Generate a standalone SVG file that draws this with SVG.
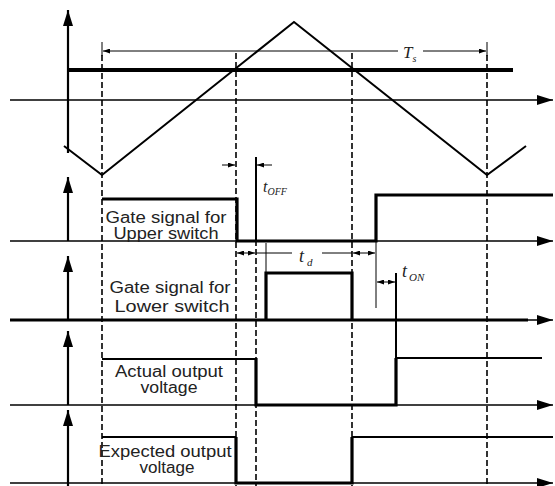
<svg xmlns="http://www.w3.org/2000/svg" width="555" height="486" viewBox="0 0 555 486">
<defs>
<marker id="arr" markerUnits="userSpaceOnUse" markerWidth="16" markerHeight="10" refX="16" refY="5" orient="auto"><path class="head" d="M0,0 L16,5 L0,10 z"/></marker>
<marker id="sa" markerUnits="userSpaceOnUse" markerWidth="7" markerHeight="5" refX="7" refY="2.5" orient="auto"><path class="head" d="M0,0 L7,2.5 L0,5 z"/></marker>
<marker id="sas" markerUnits="userSpaceOnUse" markerWidth="7" markerHeight="5" refX="0" refY="2.5" orient="auto"><path class="head" d="M7,0 L0,2.5 L7,5 z"/></marker>
</defs>
<style>
line,path{fill:none;stroke:#000}
path.head{fill:#000;stroke:none}
.ax{stroke-width:1.3}
.vax{stroke-width:2.2}
.dash{stroke-width:1.6;stroke-dasharray:6,3}
.thin{stroke-width:1}
.med{stroke-width:2}
.sig{stroke-width:3.2}
.lbl{font-family:"Liberation Sans",Arial,sans-serif;font-size:16px;fill:#222}
.it{font-family:"Liberation Serif","Times New Roman",serif;font-style:italic;fill:#222}
</style>
<g id="connectors">
<line class="vax" x1="68" y1="153" x2="68" y2="10" marker-end="url(#arr)"/>
<line class="ax" x1="10" y1="100" x2="553" y2="100" marker-end="url(#arr)"/>
<line class="vax" x1="68" y1="241" x2="68" y2="177" marker-end="url(#arr)"/>
<line class="ax" x1="10" y1="241" x2="553" y2="241" marker-end="url(#arr)"/>
<line class="vax" x1="68" y1="320" x2="68" y2="256" marker-end="url(#arr)"/>
<line class="ax" x1="10" y1="320" x2="553" y2="320" marker-end="url(#arr)"/>
<line class="sig" x1="10" y1="320" x2="528" y2="320"/>
<line class="vax" x1="68" y1="405" x2="68" y2="331" marker-end="url(#arr)"/>
<line class="ax" x1="10" y1="405" x2="553" y2="405" marker-end="url(#arr)"/>
<line class="vax" x1="68" y1="486" x2="68" y2="410" marker-end="url(#arr)"/>
<line class="ax" x1="10" y1="483" x2="553" y2="483" marker-end="url(#arr)"/>
<line class="dash" x1="102" y1="55" x2="102" y2="486"/>
<line class="dash" x1="236" y1="53" x2="236" y2="486"/>
<line class="dash" x1="352" y1="53" x2="352" y2="486"/>
<line class="dash" x1="487" y1="55" x2="487" y2="486"/>
<line class="dash" x1="256" y1="240" x2="256" y2="486"/>
<line class="med" x1="256" y1="157" x2="256" y2="240"/>
<line class="thin" x1="102" y1="42" x2="102" y2="56"/>
<line class="thin" x1="487" y1="42" x2="487" y2="56"/>
<line class="thin" x1="398" y1="51" x2="103" y2="51" marker-end="url(#sa)"/>
<line class="thin" x1="423" y1="51" x2="486" y2="51" marker-end="url(#sa)"/>
<line class="thin" x1="222" y1="165" x2="235" y2="165" marker-end="url(#sa)"/>
<line class="thin" x1="272" y1="165" x2="257" y2="165" marker-end="url(#sa)"/>
<line class="thin" x1="237" y1="253" x2="255" y2="253" marker-start="url(#sas)" marker-end="url(#sa)"/>
<line class="thin" x1="256" y1="253" x2="292" y2="253"/>
<line class="thin" x1="322" y1="253" x2="352" y2="253"/>
<line class="thin" x1="353" y1="253" x2="375" y2="253" marker-start="url(#sas)" marker-end="url(#sa)"/>
<line class="thin" x1="266" y1="243" x2="266" y2="273"/>
<line class="thin" x1="376" y1="241" x2="376" y2="308"/>
<line class="med" x1="396" y1="273" x2="396" y2="358"/>
<line class="thin" x1="377" y1="282" x2="395" y2="282" marker-start="url(#sas)" marker-end="url(#sa)"/>
</g>
<g id="carrier">
<line x1="67" y1="70" x2="513" y2="70" stroke-width="4"/>
<path class="med" d="M64,146 L102,175 L294,22 L487,175 L526,146"/>
<text class="it" x="403" y="58" font-size="17">T<tspan font-size="10" dy="4">s</tspan></text>
</g>
<g id="upper-gate">
<path class="sig" d="M102,199 H237 V241 H376 V195 H553"/>
<text class="lbl" x="166" y="223" text-anchor="middle" textLength="121" lengthAdjust="spacingAndGlyphs">Gate signal for</text>
<text class="lbl" x="166" y="239" text-anchor="middle" textLength="105" lengthAdjust="spacingAndGlyphs">Upper switch</text>
<text class="it" x="263" y="192" font-size="16">t<tspan font-size="10" dy="3">OFF</tspan></text>
</g>
<g id="lower-gate">
<path class="sig" d="M266,320 V273 H352 V320"/>
<text class="lbl" x="170" y="293" text-anchor="middle" textLength="121" lengthAdjust="spacingAndGlyphs">Gate signal for</text>
<text class="lbl" x="172" y="312" text-anchor="middle" textLength="115" lengthAdjust="spacingAndGlyphs">Lower switch</text>
<text class="it" x="299" y="262" font-size="18">t<tspan font-size="11" dy="4" dx="3">d</tspan></text>
<text class="it" x="402" y="277" font-size="18">t<tspan font-size="11" dy="4" dx="2">ON</tspan></text>
</g>
<g id="actual-output">
<path class="med" d="M102,359 H256"/>
<path class="sig" d="M256,358 V405 H396 V358"/>
<path class="med" d="M396,358 H542"/>
<text class="lbl" x="169" y="377" text-anchor="middle" textLength="108" lengthAdjust="spacingAndGlyphs">Actual output</text>
<text class="lbl" x="169" y="393" text-anchor="middle" textLength="57" lengthAdjust="spacingAndGlyphs">voltage</text>
</g>
<g id="expected-output">
<path class="med" d="M102,437 H236"/>
<path class="sig" d="M236,437 V483 H352 V437"/>
<path class="med" d="M352,437 H553"/>
<text class="lbl" x="165" y="457" text-anchor="middle" textLength="133" lengthAdjust="spacingAndGlyphs">Expected output</text>
<text class="lbl" x="167" y="473" text-anchor="middle" textLength="55" lengthAdjust="spacingAndGlyphs">voltage</text>
</g>
</svg>
